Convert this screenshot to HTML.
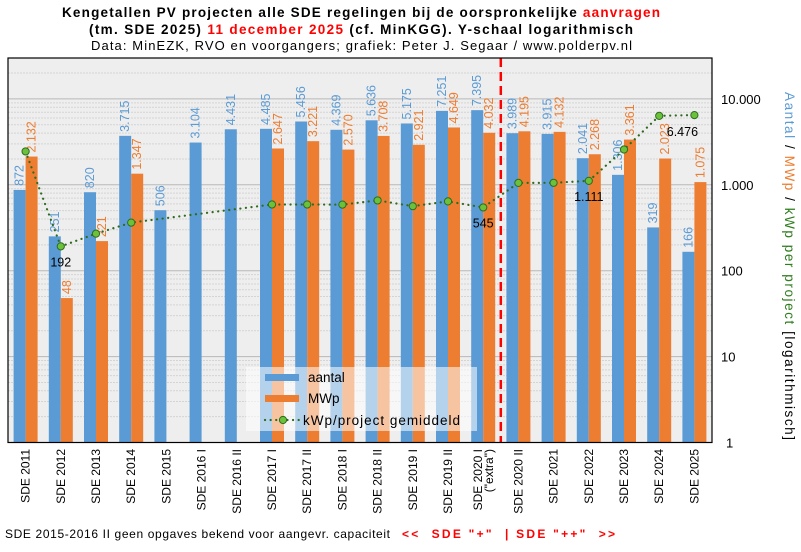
<!DOCTYPE html>
<html><head><meta charset="utf-8"><style>
body{margin:0;background:#fff;width:801px;height:547px;overflow:hidden}
svg{font-family:"Liberation Sans","DejaVu Sans",sans-serif}
</style></head><body>
<svg id="s" width="801" height="547" xmlns="http://www.w3.org/2000/svg">
<rect x="0" y="0" width="801" height="547" fill="#fff"/>
<text x="62" y="17" font-size="13.5" font-weight="bold" textLength="598" lengthAdjust="spacing">Kengetallen  PV projecten  alle  SDE regelingen  bij de oorspronkelijke  <tspan fill="#ff0000">aanvragen</tspan></text>
<text x="89" y="34" font-size="13.5" font-weight="bold" textLength="544" lengthAdjust="spacing">(tm. SDE 2025) <tspan fill="#ff0000">11 december 2025</tspan> (cf. MinKGG).  Y-schaal logarithmisch</text>
<text x="91" y="50" font-size="13" textLength="541" lengthAdjust="spacing">Data: MinEZK,  RVO en voorgangers;  grafiek:  Peter J. Segaar / www.polderpv.nl</text>
<g id="g"></g>
<text x="5" y="538" font-size="12" textLength="385" lengthAdjust="spacing">SDE 2015-2016  II geen opgaves bekend voor aangevr. capaciteit</text>
<text x="402" y="538" font-size="12" font-weight="bold" fill="#ff0000" xml:space="preserve" textLength="213" lengthAdjust="spacing">&lt;&lt;  SDE "+"  | SDE "++"  &gt;&gt;</text>
</svg>
<script>
const g=document.getElementById('g');let h='';
const L=8,R=712,T=58,B=442.5,D=85.9,W=(R-L)/20;
const y=v=>B-D*Math.log10(v);
h+=`<rect x="${L}" y="${T}" width="${R-L}" height="${B-T}" fill="#eeeeee"/>`;
for(let e=0;e<5;e++)for(let m=2;m<=9;m++){const yy=y(m*Math.pow(10,e));if(yy>T)h+=`<line x1="${L}" x2="${R}" y1="${yy}" y2="${yy}" stroke="#d4d4d4" stroke-width="1" stroke-dasharray="2,1"/>`;}
const labs=['1','10','100','1.000','10.000'];
for(let e=0;e<5;e++){const yy=y(Math.pow(10,e));h+=`<line x1="${L}" x2="${R}" y1="${yy}" y2="${yy}" stroke="#b8b8b8"/>`;h+=`<text x="${e==0?726:721}" y="${yy+5}" font-size="13">${labs[e]}</text>`;}
const cats=['SDE 2011','SDE 2012','SDE 2013','SDE 2014','SDE 2015','SDE 2016 I','SDE 2016 II','SDE 2017 I','SDE 2017 II','SDE 2018 I','SDE 2018 II','SDE 2019 I','SDE 2019 II','SDE 2020 I','SDE 2020 II','SDE 2021','SDE 2022','SDE 2023','SDE 2024','SDE 2025'];
const a=[872,251,820,3715,506,3104,4431,4485,5456,4369,5636,5175,7251,7395,3989,3915,2041,1306,319,166];
const m=[2132,48,221,1347,0,0,0,2647,3221,2570,3708,2921,4649,4032,4195,4132,2268,3361,2023,1075];
const k=[2445,192,270,363,null,null,null,590,590,588,658,564,641,545,1052,1055,1111,2574,6342,6476];
const fmt=v=>v>=1000?Math.floor(v/1000)+'.'+String(v%1000).padStart(3,'0'):String(v);
for(let i=0;i<20;i++){const c=L+W*(i+0.5);
 const ya=y(a[i]);h+=`<rect x="${c-12}" y="${ya}" width="12" height="${B-ya}" fill="#5b9bd5"/>`;
 h+=`<text transform="translate(${c-2},${ya-4}) rotate(-90)" font-size="12.5" fill="#5b9bd5">${fmt(a[i])}</text>`;
 if(m[i]){const ym=y(m[i]);h+=`<rect x="${c}" y="${ym}" width="12" height="${B-ym}" fill="#ed7d31"/>`;
 h+=`<text transform="translate(${c+10},${ym-4}) rotate(-90)" font-size="12.5" fill="#ed7d31">${fmt(m[i])}</text>`;}
 const lines=cats[i]=='SDE 2020 I'?['SDE 2020 I','("extra")']:[cats[i]];
 lines.forEach((t,j)=>{h+=`<text transform="translate(${c+4+j*11-(lines.length-1)*5},449) rotate(-90)" text-anchor="end" font-size="12">${t}</text>`;});
}
h+=`<line x1="${L}" x2="${R}" y1="${B}" y2="${B}" stroke="#888"/>`;
let pts=[];for(let i=0;i<20;i++){if(k[i]!=null)pts.push([L+W*(i+0.5),y(k[i])]);}
h+=`<polyline points="${pts.map(p=>p.join(',')).join(' ')}" fill="none" stroke="#2e6b1e" stroke-width="2.2" stroke-dasharray="0.1,5.5" stroke-linecap="round"/>`;
pts.forEach(p=>h+=`<circle cx="${p[0]}" cy="${p[1]}" r="3.6" fill="#6cc13a" stroke="#2e6b1e" stroke-width="1"/>`);
h+=`<text x="${L+W*1.5}" y="${y(192)+20}" text-anchor="middle" font-size="12.5">192</text>`;
h+=`<text x="${L+W*13.5}" y="${y(545)+20}" text-anchor="middle" font-size="12.5">545</text>`;
h+=`<text x="${L+W*16.5}" y="${y(1111)+20}" text-anchor="middle" font-size="12.5">1.111</text>`;
h+=`<text x="${L+W*19.5-12}" y="${y(6476)+21}" text-anchor="middle" font-size="12.5">6.476</text>`;
h+=`<line x1="${L+W*14}" x2="${L+W*14}" y1="${T}" y2="${B}" stroke="#ff0000" stroke-width="2.5" stroke-dasharray="9,5"/>`;
h+=`<rect x="246" y="367" width="231" height="64" fill="#ffffff" fill-opacity="0.55"/>`;
h+=`<rect x="265" y="374" width="34" height="7" fill="#5b9bd5"/><text x="308" y="382" font-size="13.5">aantal</text>`;
h+=`<rect x="265" y="395" width="34" height="7" fill="#ed7d31"/><text x="308" y="403" font-size="13.5">MWp</text>`;
h+=`<line x1="265" x2="299" y1="420" y2="420" stroke="#2e6b1e" stroke-width="2.2" stroke-dasharray="0.1,5.5" stroke-linecap="round"/><circle cx="283" cy="420" r="3.6" fill="#6cc13a" stroke="#2e6b1e"/><text x="303" y="425" font-size="13.5" textLength="157" lengthAdjust="spacing">kWp/project gemiddeld</text>`;
h+=`<rect x="${L}" y="${T}" width="${R-L}" height="${B-T}" fill="none" stroke="#000" stroke-width="1.2"/>`;
h+=`<text transform="translate(785,92) rotate(90)" font-size="13.5" textLength="348" lengthAdjust="spacing"><tspan fill="#5b9bd5">Aantal</tspan> / <tspan fill="#ed7d31">MWp</tspan> / <tspan fill="#2e7d1e">kWp per project</tspan> [logarithmisch]</text>`;
g.innerHTML=h;
</script>
</body></html>
